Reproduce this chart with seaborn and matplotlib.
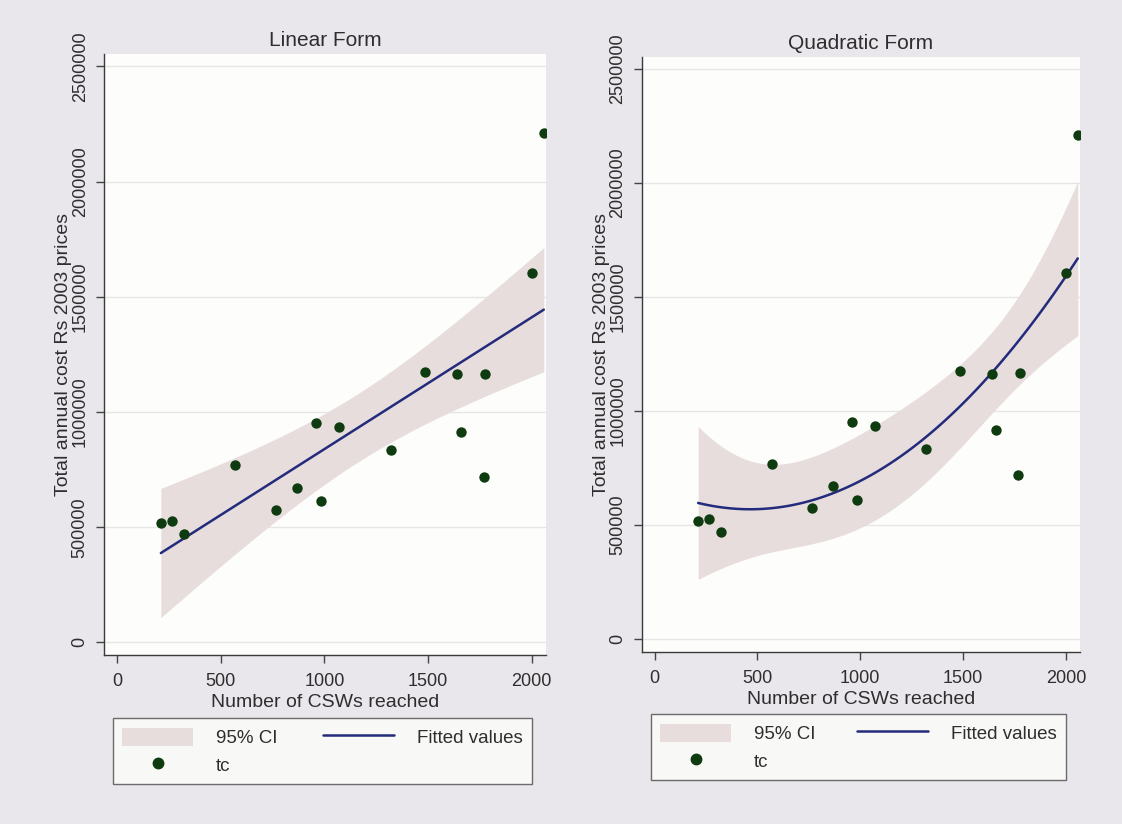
import numpy as np
import pandas as pd
import matplotlib
matplotlib.use("Agg")
import matplotlib.pyplot as plt
import seaborn as sns
from matplotlib.patches import Patch
from matplotlib.lines import Line2D

# Number of CSWs reached by each project and its total annual cost (Rs, 2003 prices)
csws_reached = [212, 265, 323, 570, 768, 866, 960, 984, 1072, 1322,
                1483, 1642, 1660, 1768, 1776, 2002, 2058]
total_cost = [517000, 528000, 471000, 769000, 575000, 671000, 953000, 612000,
              935000, 835000, 1174000, 1163000, 915000, 720000, 1167000,
              1605000, 2211000]

panel_titles = ["Linear Form", "Quadratic Form"]
poly_orders = [1, 2]
x_ticks = [0, 500, 1000, 1500, 2000]
y_ticks = [0, 500000, 1000000, 1500000, 2000000, 2500000]
x_label = "Number of CSWs reached"
y_label = "Total annual cost Rs 2003 prices"
legend_labels = ["95% CI", "tc", "Fitted values"]

df = pd.DataFrame({"csws": csws_reached, "tc": total_cost})

BG = "#e9e6ec"
PLOT_BG = "#fdfdfb"
CI_COLOR = "#e8dddd"
LINE_COLOR = "#232b7c"
DOT_COLOR = "#0f3b10"
TEXT = "#2e2e2e"
T975 = {15: 2.131, 14: 2.145}


def fit_with_ci(x, y, order, grid):
    """OLS polynomial fit and 95% CI of the mean prediction."""
    X = np.vander(x, order + 1, increasing=True)
    beta, *_ = np.linalg.lstsq(X, y, rcond=None)
    resid = y - X @ beta
    dof = len(x) - (order + 1)
    s2 = resid @ resid / dof
    cov = s2 * np.linalg.inv(X.T @ X)
    G = np.vander(grid, order + 1, increasing=True)
    fit = G @ beta
    se = np.sqrt(np.einsum("ij,jk,ik->i", G, cov, G))
    t = T975[dof]
    return fit, fit - t * se, fit + t * se


sns.set_theme(style="white")
plt.rcParams["font.family"] = ["Liberation Sans", "DejaVu Sans"]

fig = plt.figure(figsize=(11.22, 8.24), dpi=100, facecolor=BG)
axes = [fig.add_axes([0.0927, 0.205, 0.394, 0.729]),
        fig.add_axes([0.572, 0.209, 0.3906, 0.722])]

x = df["csws"].to_numpy(float)
y = df["tc"].to_numpy(float)
grid = np.linspace(x.min(), x.max(), 100)

for ax, title, order in zip(axes, panel_titles, poly_orders):
    ax.set_facecolor(PLOT_BG)
    fit, lo, hi = fit_with_ci(x, y, order, grid)
    fitted = pd.DataFrame({"csws": grid, "fit": fit})

    for yt in y_ticks:
        ax.axhline(yt, color="#e6e6e6", lw=1.0, zorder=0)
    ax.fill_between(grid, lo, hi, color=CI_COLOR, lw=0, zorder=1)
    sns.lineplot(data=fitted, x="csws", y="fit", ax=ax, color=LINE_COLOR,
                 lw=1.8, zorder=3, legend=False)
    sns.scatterplot(data=df, x="csws", y="tc", ax=ax, color=DOT_COLOR,
                    s=56, edgecolor=DOT_COLOR, linewidth=0, zorder=4,
                    legend=False)

    ax.set_xlim(-62, 2069)
    ax.set_ylim(-55000, 2552000)
    ax.set_xticks(x_ticks)
    ax.set_yticks(y_ticks)
    ax.set_xticklabels([str(v) for v in x_ticks])
    ax.set_yticklabels([str(v) for v in y_ticks], rotation=90, va="center")
    ax.tick_params(axis="both", direction="out", length=6, width=1,
                   color="#444444", labelsize=13, labelcolor=TEXT,
                   left=True, bottom=True)
    ax.tick_params(axis="x", pad=7)
    ax.tick_params(axis="y", pad=5)
    for side in ("top", "right"):
        ax.spines[side].set_visible(False)
    for side in ("left", "bottom"):
        ax.spines[side].set_color("#3a3a3a")
        ax.spines[side].set_linewidth(1.0)

    ax.set_title(title, fontsize=15, color=TEXT, pad=6)
    ax.set_xlabel(x_label, fontsize=14, color=TEXT, labelpad=3)
    ax.set_ylabel(y_label, fontsize=14, color=TEXT, labelpad=0)

    handles = [Patch(facecolor=CI_COLOR, edgecolor="none"),
               Line2D([], [], ls="none", marker="o", color=DOT_COLOR,
                      markersize=7.5),
               Line2D([], [], color=LINE_COLOR, lw=1.8)]
    leg = ax.legend(handles, legend_labels, ncol=2, loc="upper left",
                    bbox_to_anchor=(0.02, -0.105, 0.948, 0.0), mode="expand",
                    fontsize=13.5, frameon=True, fancybox=False,
                    handlelength=3.8, handleheight=1.1, handletextpad=1.2,
                    labelspacing=0.45, borderpad=0.5, borderaxespad=0)
    leg.get_frame().set_edgecolor("#4a4a4a")
    leg.get_frame().set_linewidth(1.0)
    leg.get_frame().set_facecolor(PLOT_BG)
    for t in leg.get_texts():
        t.set_color(TEXT)

fig.savefig("out.png", dpi=100, facecolor=BG)
